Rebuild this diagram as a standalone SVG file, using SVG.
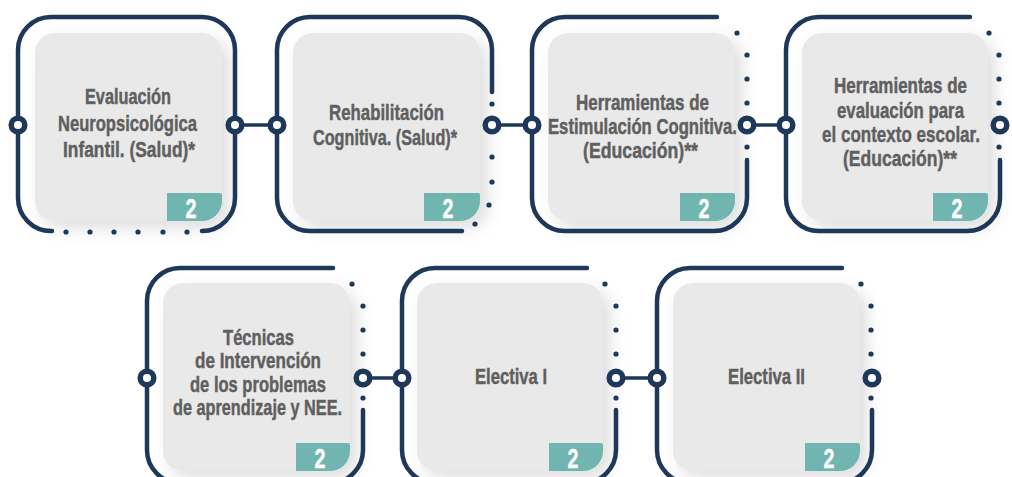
<svg xmlns="http://www.w3.org/2000/svg" width="1012" height="477" viewBox="0 0 1012 477">
  <defs>
    <filter id="sh" x="-20%" y="-20%" width="150%" height="150%">
      <feDropShadow dx="7" dy="7" stdDeviation="8" flood-color="#000" flood-opacity="0.13"/>
    </filter>
  </defs>
  <style>
    .frame{fill:none;stroke:#1d3859;stroke-width:4.5;stroke-linecap:round}
    .card{fill:#e9e9e9;filter:url(#sh)}
    .badge{fill:#71b5b1}
    .dot{fill:#1d3859}
    .port{fill:#fff;stroke:#1d3859;stroke-width:5.5}
    .conn{stroke:#1d3859;stroke-width:3.5}
    .lbl{font-family:"Liberation Sans",Arial,sans-serif;font-weight:bold;font-size:21.5px;fill:#5f5f5f;stroke:#5f5f5f;stroke-width:0.45;text-anchor:middle}
    .num{font-family:"Liberation Sans",Arial,sans-serif;font-weight:bold;font-size:28px;fill:#fff;stroke:#fff;stroke-width:0.4;text-anchor:middle}
  </style>
  <rect width="1012" height="477" fill="#fff"/>

  <g id="connectors">
    <line class="conn" x1="235" y1="125" x2="277" y2="125"/>
    <line class="conn" x1="492" y1="125" x2="532" y2="125"/>
    <line class="conn" x1="747" y1="125" x2="786" y2="125"/>
    <line class="conn" x1="363" y1="378" x2="402" y2="378"/>
    <line class="conn" x1="616" y1="378" x2="657" y2="378"/>
  </g>

  <g id="node1">
    <rect class="card" x="35" y="33" width="187" height="188" rx="20"/>
    <path class="badge" d="M167 193 H220 Q222 193 222 195 V201 A20 20 0 0 1 202 221 H167 Z"/>
    <text class="num" x="191" y="218" textLength="11" lengthAdjust="spacingAndGlyphs">2</text>
    <path class="frame" d="M52 231 H51 A33 33 0 0 1 18 198 V50 A33 33 0 0 1 51 17 H202 A33 33 0 0 1 235 50 V198 A33 33 0 0 1 202 231"/>
    <g class="dot"><circle cx="66" cy="232" r="2.6"/><circle cx="90" cy="232" r="2.6"/><circle cx="114" cy="232" r="2.6"/><circle cx="138" cy="232" r="2.6"/><circle cx="163" cy="232" r="2.6"/><circle cx="187" cy="232" r="2.6"/></g>
    <circle class="port" cx="18" cy="125" r="6.8"/>
    <circle class="port" cx="235" cy="125" r="6.8"/>
    <text class="lbl" x="128" y="104" textLength="86" lengthAdjust="spacingAndGlyphs">Evaluación</text>
    <text class="lbl" x="127.5" y="131" textLength="139" lengthAdjust="spacingAndGlyphs">Neuropsicológica</text>
    <text class="lbl" x="129" y="157" textLength="132" lengthAdjust="spacingAndGlyphs">Infantil. (Salud)*</text>
  </g>

  <g id="node2">
    <rect class="card" x="293" y="33" width="187" height="188" rx="20"/>
    <path class="badge" d="M424 193 H478 Q480 193 480 195 V201 A20 20 0 0 1 460 221 H424 Z"/>
    <text class="num" x="448" y="218" textLength="11" lengthAdjust="spacingAndGlyphs">2</text>
    <path class="frame" d="M492 92 V50 A33 33 0 0 0 459 17 H310 A33 33 0 0 0 277 50 V198 A33 33 0 0 0 310 231 H462"/>
    <g class="dot"><circle cx="492" cy="104" r="2.6"/><circle cx="492" cy="157" r="2.6"/><circle cx="492" cy="182" r="2.6"/><circle cx="489" cy="205" r="2.6"/><circle cx="475" cy="224" r="2.6"/></g>
    <circle class="port" cx="277" cy="125" r="6.8"/>
    <circle class="port" cx="492" cy="125" r="6.8"/>
    <text class="lbl" x="386.5" y="120" textLength="115" lengthAdjust="spacingAndGlyphs">Rehabilitación</text>
    <text class="lbl" x="385" y="145" textLength="144" lengthAdjust="spacingAndGlyphs">Cognitiva. (Salud)*</text>
  </g>

  <g id="node3">
    <rect class="card" x="548" y="33" width="187" height="188" rx="20"/>
    <path class="badge" d="M680 193 H733 Q735 193 735 195 V201 A20 20 0 0 1 715 221 H680 Z"/>
    <text class="num" x="704" y="218" textLength="11" lengthAdjust="spacingAndGlyphs">2</text>
    <path class="frame" d="M717 17 H565 A33 33 0 0 0 532 50 V198 A33 33 0 0 0 565 231 H714 A33 33 0 0 0 747 198 V160"/>
    <g class="dot"><circle cx="737" cy="33" r="2.6"/><circle cx="747" cy="55" r="2.6"/><circle cx="747" cy="79" r="2.6"/><circle cx="747" cy="103" r="2.6"/><circle cx="747" cy="147" r="2.6"/></g>
    <circle class="port" cx="532" cy="125" r="6.8"/>
    <circle class="port" cx="747" cy="125" r="6.8"/>
    <text class="lbl" x="642.5" y="110" textLength="133" lengthAdjust="spacingAndGlyphs">Herramientas de</text>
    <text class="lbl" x="642.5" y="134" textLength="189" lengthAdjust="spacingAndGlyphs">Estimulación Cognitiva.</text>
    <text class="lbl" x="640.5" y="158" textLength="115" lengthAdjust="spacingAndGlyphs">(Educación)**</text>
  </g>

  <g id="node4">
    <rect class="card" x="802" y="33" width="186" height="188" rx="20"/>
    <path class="badge" d="M933 193 H986 Q988 193 988 195 V201 A20 20 0 0 1 968 221 H933 Z"/>
    <text class="num" x="957" y="218" textLength="11" lengthAdjust="spacingAndGlyphs">2</text>
    <path class="frame" d="M970 17 H819 A33 33 0 0 0 786 50 V198 A33 33 0 0 0 819 231 H967 A33 33 0 0 0 1000 198 V160"/>
    <g class="dot"><circle cx="989" cy="33" r="2.6"/><circle cx="999" cy="55" r="2.6"/><circle cx="999" cy="79" r="2.6"/><circle cx="999" cy="103" r="2.6"/><circle cx="999" cy="147" r="2.6"/></g>
    <circle class="port" cx="786" cy="125" r="6.8"/>
    <circle class="port" cx="1000" cy="125" r="6.8"/>
    <text class="lbl" x="900.5" y="93" textLength="133" lengthAdjust="spacingAndGlyphs">Herramientas de</text>
    <text class="lbl" x="900.5" y="118" textLength="127" lengthAdjust="spacingAndGlyphs">evaluación para</text>
    <text class="lbl" x="901" y="142" textLength="158" lengthAdjust="spacingAndGlyphs">el contexto escolar.</text>
    <text class="lbl" x="900" y="166" textLength="114" lengthAdjust="spacingAndGlyphs">(Educación)**</text>
  </g>

  <g id="node5">
    <rect class="card" x="163" y="283" width="187" height="188" rx="20"/>
    <path class="badge" d="M296 443 H348 Q350 443 350 445 V451 A20 20 0 0 1 330 471 H296 Z"/>
    <text class="num" x="320" y="468" textLength="11" lengthAdjust="spacingAndGlyphs">2</text>
    <path class="frame" d="M333 268 H180 A33 33 0 0 0 147 301 V450 A33 33 0 0 0 180 483 H330 A33 33 0 0 0 363 450 V410"/>
    <g class="dot"><circle cx="352" cy="284" r="2.6"/><circle cx="363" cy="306" r="2.6"/><circle cx="363" cy="330" r="2.6"/><circle cx="363" cy="354" r="2.6"/><circle cx="363" cy="398" r="2.6"/></g>
    <circle class="port" cx="147" cy="378" r="6.8"/>
    <circle class="port" cx="363" cy="378" r="6.8"/>
    <text class="lbl" x="258.5" y="345" textLength="71" lengthAdjust="spacingAndGlyphs">Técnicas</text>
    <text class="lbl" x="258" y="368" textLength="126" lengthAdjust="spacingAndGlyphs">de Intervención</text>
    <text class="lbl" x="258" y="392" textLength="136" lengthAdjust="spacingAndGlyphs">de los problemas</text>
    <text class="lbl" x="257.5" y="415" textLength="169" lengthAdjust="spacingAndGlyphs">de aprendizaje y NEE.</text>
  </g>

  <g id="node6">
    <rect class="card" x="417" y="283" width="186" height="188" rx="20"/>
    <path class="badge" d="M549 443 H601 Q603 443 603 445 V451 A20 20 0 0 1 583 471 H549 Z"/>
    <text class="num" x="573" y="468" textLength="11" lengthAdjust="spacingAndGlyphs">2</text>
    <path class="frame" d="M587 268 H435 A33 33 0 0 0 402 301 V450 A33 33 0 0 0 435 483 H583 A33 33 0 0 0 616 450 V410"/>
    <g class="dot"><circle cx="605" cy="284" r="2.6"/><circle cx="616" cy="306" r="2.6"/><circle cx="616" cy="330" r="2.6"/><circle cx="616" cy="354" r="2.6"/><circle cx="616" cy="398" r="2.6"/></g>
    <circle class="port" cx="402" cy="378" r="6.8"/>
    <circle class="port" cx="616" cy="378" r="6.8"/>
    <text class="lbl" x="511" y="384" textLength="72" lengthAdjust="spacingAndGlyphs">Electiva I</text>
  </g>

  <g id="node7">
    <rect class="card" x="673" y="283" width="187" height="188" rx="20"/>
    <path class="badge" d="M805 443 H858 Q860 443 860 445 V451 A20 20 0 0 1 840 471 H805 Z"/>
    <text class="num" x="829" y="468" textLength="11" lengthAdjust="spacingAndGlyphs">2</text>
    <path class="frame" d="M842 268 H690 A33 33 0 0 0 657 301 V450 A33 33 0 0 0 690 483 H839 A33 33 0 0 0 872 450 V410"/>
    <g class="dot"><circle cx="861" cy="284" r="2.6"/><circle cx="871" cy="306" r="2.6"/><circle cx="871" cy="330" r="2.6"/><circle cx="871" cy="354" r="2.6"/><circle cx="871" cy="398" r="2.6"/></g>
    <circle class="port" cx="657" cy="378" r="6.8"/>
    <circle class="port" cx="872" cy="378" r="6.8"/>
    <text class="lbl" x="766.5" y="384" textLength="77" lengthAdjust="spacingAndGlyphs">Electiva II</text>
  </g>
</svg>
